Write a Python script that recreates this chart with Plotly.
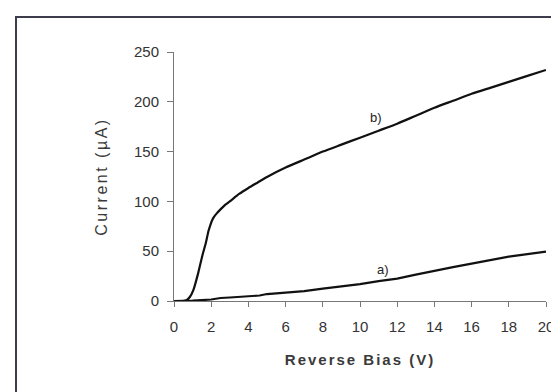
import plotly.graph_objects as go

# Curve b) readings (reverse bias V, current µA)
b_bias = [0, 0.5, 0.67, 0.85, 1.05, 1.3, 1.53, 1.72, 1.85, 1.95, 2.05, 2.15, 2.3, 2.5, 2.75, 3.0,
          3.5, 4.0, 4.5, 5.0, 6.0, 7.0, 8.0, 9.0, 10.0, 11.0, 12.0, 13.0, 14.0, 15.0, 16.0,
          17.0, 18.0, 19.0, 20.0]
b_current = [0, 0, 0.7, 4, 11.5, 28, 46, 59, 70, 76, 81, 84.5, 88, 92, 96.5, 100,
             107.5, 113.5, 119, 124.5, 134, 142, 150, 157, 164, 171, 178, 186, 194, 201, 208,
             214, 220, 226, 232]

# Curve a) readings
a_bias = [0, 1, 2, 2.5, 3, 4, 4.6, 5, 6, 7, 8, 9, 10, 11, 12, 13, 14, 15, 16, 17, 18, 19, 20]
a_current = [0, 0.3, 1.5, 3, 3.5, 4.5, 5.5, 7, 8.5, 10, 12.5, 14.5, 17, 20, 22.5, 26.5,
             30.5, 34, 37.5, 41, 44.5, 47, 49.5]

x_ticks = [0, 2, 4, 6, 8, 10, 12, 14, 16, 18, 20]
y_ticks = [0, 50, 100, 150, 200, 250]

labels = ["b)", "a)"]
label_x = [10.86, 11.24]
label_y = [184, 32]

fig = go.Figure()
fig.add_trace(go.Scatter(x=b_bias, y=b_current, mode="lines", line_shape="spline",
                         line=dict(color="#111111", width=2.2, smoothing=0.6), showlegend=False))
fig.add_trace(go.Scatter(x=a_bias, y=a_current, mode="lines",
                         line=dict(color="#111111", width=2.2), showlegend=False))

for t, x, y in zip(labels, label_x, label_y):
    fig.add_annotation(x=x, y=y, text=t, showarrow=False,
                       font=dict(family="Liberation Sans, Arial", size=13, color="#222222"))

fig.update_layout(
    width=559, height=392,
    margin=dict(l=166, r=21, t=44, b=99),
    paper_bgcolor="white", plot_bgcolor="white",
    font=dict(family="Liberation Sans, Arial", color="#333333"),
    shapes=[dict(type="rect", xref="paper", yref="paper",
                 x0=-0.4247, x1=1.075, y0=-0.3855, y1=1.1406,
                 line=dict(color="#3c3c4c", width=2), fillcolor="rgba(0,0,0,0)")],
)
fig.update_xaxes(
    range=[0, 20], tickvals=x_ticks, ticktext=[str(v) for v in x_ticks],
    showgrid=False, zeroline=False, showline=True, linecolor="#777777", linewidth=1,
    ticks="outside", ticklen=5, tickcolor="#777777", ticklabelstandoff=7,
    tickfont=dict(size=15, color="#333333"),
    title=dict(text='<span style="letter-spacing:2px"><b>Reverse Bias (V)</b></span>',
               font=dict(size=15, color="#3a3a3a"), standoff=20),
)
fig.update_yaxes(
    range=[0, 250], tickvals=y_ticks, ticktext=[str(v) for v in y_ticks],
    showgrid=False, zeroline=False, showline=True, linecolor="#777777", linewidth=1,
    ticks="outside", ticklen=6, tickcolor="#777777", ticklabelstandoff=5,
    tickfont=dict(size=15, color="#333333"),
    title=dict(text='<span style="letter-spacing:2.5px">Current (µA)</span>',
               font=dict(size=16, color="#3a3a3a"), standoff=22),
)

fig.write_html("out.html")
